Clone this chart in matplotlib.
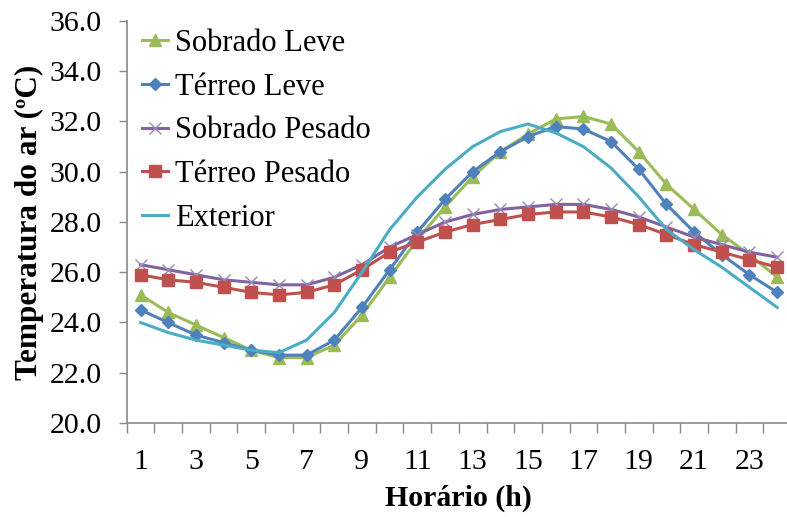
import matplotlib
matplotlib.use("Agg")
import matplotlib.pyplot as plt
from matplotlib.ticker import FixedLocator, NullFormatter, FixedFormatter

hours = list(range(1, 25))
hour_labels = [str(h) for h in range(1, 24, 2)]
yticks = [20.0, 22.0, 24.0, 26.0, 28.0, 30.0, 32.0, 34.0, 36.0]

sobrado_leve = [25.1, 24.4, 23.9, 23.4, 22.9, 22.6, 22.6, 23.1, 24.3, 25.8, 27.3, 28.6,
                29.8, 30.8, 31.5, 32.1, 32.2, 31.9, 30.8, 29.5, 28.5, 27.5, 26.7, 25.8]
terreo_leve = [24.5, 24.0, 23.5, 23.2, 22.9, 22.7, 22.7, 23.3, 24.6, 26.1, 27.6, 28.9,
               30.0, 30.8, 31.4, 31.8, 31.7, 31.2, 30.1, 28.7, 27.6, 26.7, 25.9, 25.2]
sobrado_pesado = [26.3, 26.1, 25.9, 25.7, 25.6, 25.5, 25.5, 25.8, 26.3, 27.0, 27.5, 28.0,
                  28.3, 28.5, 28.6, 28.7, 28.7, 28.5, 28.2, 27.8, 27.4, 27.1, 26.8, 26.6]
terreo_pesado = [25.9, 25.7, 25.6, 25.4, 25.2, 25.1, 25.2, 25.5, 26.1, 26.8, 27.2, 27.6,
                 27.9, 28.1, 28.3, 28.4, 28.4, 28.2, 27.9, 27.5, 27.1, 26.8, 26.5, 26.2]
exterior = [24.0, 23.6, 23.3, 23.1, 22.9, 22.8, 23.3, 24.4, 26.0, 27.7, 29.0, 30.1,
            31.0, 31.6, 31.9, 31.55, 31.0, 30.15, 29.0, 27.7, 26.9, 26.2, 25.4, 24.6]

plt.rcParams['font.family'] = ['Liberation Serif', 'DejaVu Serif']

fig = plt.figure(figsize=(7.87, 5.17), dpi=100)
ax = fig.add_axes([126.7 / 787, (517 - 423) / 517, 664.3 / 787, 402 / 517])

lw = 2.2
ax.plot(hours, sobrado_leve, color='#9BBB59', lw=lw, marker='^', ms=8.5,
        label='Sobrado Leve')
ax.plot(hours, terreo_leve, color='#4F81BD', lw=lw, marker='D', ms=6.5,
        label='Térreo Leve')
ax.plot(hours, sobrado_pesado, color='#8064A2', lw=lw, marker='x', ms=9,
        mec='#9a88b5', mew=1.0, label='Sobrado Pesado')
ax.plot(hours, terreo_pesado, color='#C0504D', lw=lw, marker='s', ms=8.5,
        label='Térreo Pesado')
ax.plot(hours, exterior, color='#4BACC6', lw=lw, label='Exterior')

ax.set_xlim(0.5, 24.5)
ax.set_ylim(20, 36)

# x: ticks between categories, labels on odd hours
ax.xaxis.set_major_locator(FixedLocator([h + 0.5 for h in range(0, 25)]))
ax.xaxis.set_major_formatter(NullFormatter())
ax.xaxis.set_minor_locator(FixedLocator(list(range(1, 24, 2))))
ax.xaxis.set_minor_formatter(FixedFormatter(hour_labels))
ax.tick_params(axis='x', which='major', direction='out', length=7, width=1, color='#888888')
ax.tick_params(axis='x', which='minor', length=0, pad=19, labelsize=21.5)

ax.set_yticks(yticks)
ax.set_yticklabels([f'{v:.1f}' for v in yticks])
ax.tick_params(axis='y', direction='out', length=6, width=1, color='#888888',
               pad=12, labelsize=21.5)

for s in ['top', 'right']:
    ax.spines[s].set_visible(False)
for s in ['left', 'bottom']:
    ax.spines[s].set_color('#888888')
    ax.spines[s].set_linewidth(1.2)

ax.set_xlabel('Horário (h)', fontsize=21.5, fontweight='bold', labelpad=7)
ax.set_ylabel('Temperatura do ar (ºC)', fontsize=22.5, fontweight='bold', labelpad=4)

ax.legend(loc='upper left', bbox_to_anchor=(-0.004, 1.026), frameon=False, fontsize=22,
          handlelength=0.85, handletextpad=0.23, labelspacing=0.48, numpoints=1,
          borderaxespad=0.2)

fig.savefig('out.png', dpi=100)
